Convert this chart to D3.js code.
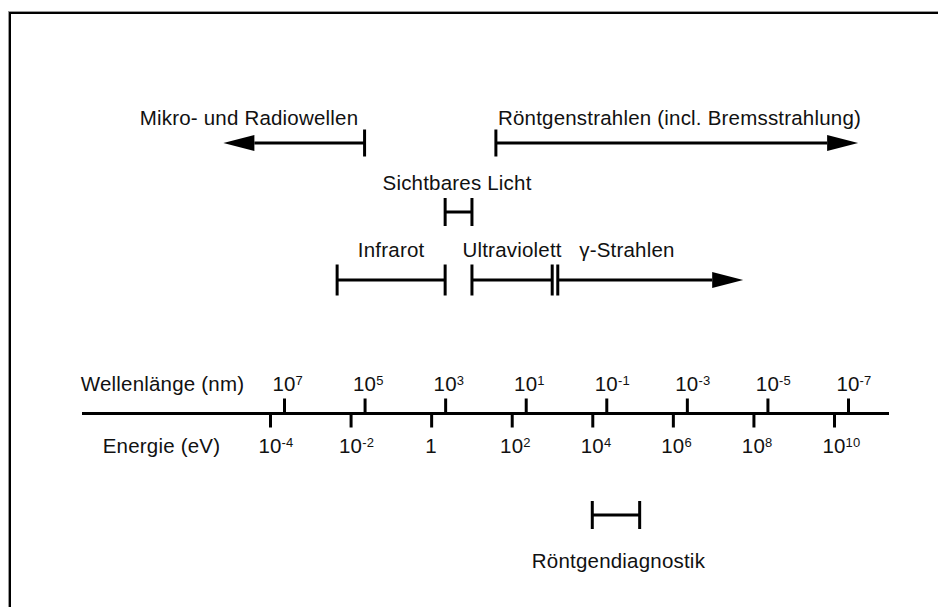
<!DOCTYPE html>
<html>
<head>
<meta charset="utf-8">
<script src="https://cdn.jsdelivr.net/npm/d3@7"></script>
<style>
  html, body { margin: 0; padding: 0; background: #fff; }
  svg { display: block; }
  text { font-family: "Liberation Sans", Arial, sans-serif; fill: #111; letter-spacing: 0.2px; }
</style>
</head>
<body>
<svg id="chart" width="938" height="607"></svg>
<script>
// ---------------- DATA ----------------
// Wavelength ticks (nm), shown as exponents of 10
const wavelengthExponents = [7, 5, 3, 1, -1, -3, -5, -7];
// Energy ticks (eV), shown as exponents of 10 (0 -> "1")
const energyExponents = [-4, -2, 0, 2, 4, 6, 8, 10];

// Spectral ranges, in wavelength (nm). arrow: which end carries an arrowhead
const rangeNames  = ["Mikro- und Radiowellen", "Röntgenstrahlen (incl. Bremsstrahlung)", "Sichtbares Licht", "Infrarot", "Ultraviolett", "γ-Strahlen"];
const rangeFromNm = [1e5,      55,    1000,  4.8e5, 216,  1.6];
const rangeToNm   = [3.2e8,    5.6e-8, 216,  1000,  2.2,  4e-5];
const rangeArrow  = ["to",     "to",   "none","none","none","to"];
const rangeRow    = [0, 0, 1, 2, 2, 2];

// Diagnostic range, in energy (eV)
const diagName = "Röntgendiagnostik";
const diagFromEv = 1e4;
const diagToEv = 1.5e5;

const axisTitleWave = "Wellenlänge (nm)";
const axisTitleEnergy = "Energie (eV)";

// ---------------- LAYOUT ----------------
const W = 938, H = 607;
const axisY = 413.5;
const rowY = [143, 212, 280];
const rowLabelY = [125, 190, 257];
const barHalf = [13.5, 14, 15.5];
const labelDx = [-45, 2.5, -1.5, 0, 0, -23.5];
const diagY = 515, diagHalf = 14, diagLabelY = 568, diagLabelDx = 2.5;
const fontSize = 20.5, supSize = 13;

const svg = d3.select("#chart");

// Frame
svg.append("rect").attr("x", 8.5).attr("y", 11.5).attr("width", 1000).attr("height", 1000)
  .attr("fill", "none").attr("stroke", "#999").attr("stroke-width", 1);
svg.append("rect").attr("x", 10).attr("y", 13).attr("width", 1000).attr("height", 1000)
  .attr("fill", "none").attr("stroke", "#000").attr("stroke-width", 2);

// Scales
const xWave = d3.scaleLog().domain([1e7, 1e-7]).range([284, 848]);
const xEnergy = d3.scaleLog().domain([1e-4, 1e10]).range([270, 834]);

// Axis baseline
svg.append("line").attr("x1", 82).attr("x2", 889).attr("y1", axisY).attr("y2", axisY)
  .attr("stroke", "#000").attr("stroke-width", 3);

// Wavelength ticks (up)
const gW = svg.append("g").attr("transform", `translate(0,${axisY})`)
  .call(d3.axisTop(xWave).tickValues(wavelengthExponents.map(e => Math.pow(10, e)))
        .tickSize(15).tickFormat(""));
gW.select(".domain").remove();
gW.selectAll(".tick line").attr("stroke", "#000").attr("stroke-width", 3);

// Energy ticks (down)
const gE = svg.append("g").attr("transform", `translate(0,${axisY})`)
  .call(d3.axisBottom(xEnergy).tickValues(energyExponents.map(e => Math.pow(10, e)))
        .tickSize(14).tickFormat(""));
gE.select(".domain").remove();
gE.selectAll(".tick line").attr("stroke", "#000").attr("stroke-width", 3);

// Power labels: "10" centered on the tick, exponent appended as superscript
function powerLabel(x, y, exp) {
  if (exp === 0) {
    svg.append("text").attr("x", x).attr("y", y).attr("text-anchor", "middle")
      .attr("font-size", fontSize).text("1");
    return;
  }
  const t = svg.append("text").attr("y", y).attr("font-size", fontSize);
  const base = t.append("tspan").text("10");
  const w = base.node().getComputedTextLength();
  t.attr("x", x - w / 2);
  t.append("tspan").attr("font-size", supSize).attr("dy", -6).text(exp < 0 ? "-" + (-exp) : String(exp));
}
wavelengthExponents.forEach(e => powerLabel(xWave(Math.pow(10, e)), 391, e));
energyExponents.forEach(e => powerLabel(xEnergy(Math.pow(10, e)), 453, e));

svg.append("text").attr("x", 162.5).attr("y", 391).attr("text-anchor", "middle")
  .attr("font-size", fontSize).text(axisTitleWave);
svg.append("text").attr("x", 161.5).attr("y", 453).attr("text-anchor", "middle")
  .attr("font-size", fontSize).text(axisTitleEnergy);

// Range bars
function rangeBar(x1, x2, y, half, arrow) {
  const g = svg.append("g");
  const dir = Math.sign(x2 - x1);
  const headLen = 31, headHalf = 8;
  const lineEnd = arrow === "to" ? x2 - dir * headLen : x2;
  g.append("line").attr("x1", x1).attr("x2", lineEnd).attr("y1", y).attr("y2", y)
    .attr("stroke", "#000").attr("stroke-width", 3);
  g.append("line").attr("x1", x1).attr("x2", x1).attr("y1", y - half).attr("y2", y + half)
    .attr("stroke", "#000").attr("stroke-width", 3);
  if (arrow === "to") {
    g.append("path")
      .attr("d", `M${x2},${y} L${x2 - dir * headLen},${y - headHalf} L${x2 - dir * headLen},${y + headHalf} Z`)
      .attr("fill", "#000");
  } else {
    g.append("line").attr("x1", x2).attr("x2", x2).attr("y1", y - half).attr("y2", y + half)
      .attr("stroke", "#000").attr("stroke-width", 3);
  }
}

rangeNames.forEach((name, i) => {
  const x1 = xWave(rangeFromNm[i]), x2 = xWave(rangeToNm[i]);
  rangeBar(x1, x2, rowY[rangeRow[i]], barHalf[rangeRow[i]], rangeArrow[i]);
  svg.append("text").attr("x", (x1 + x2) / 2 + labelDx[i]).attr("y", rowLabelY[rangeRow[i]])
    .attr("text-anchor", "middle").attr("font-size", fontSize).text(name);
});

// Röntgendiagnostik (energy range)
{
  const x1 = xEnergy(diagFromEv), x2 = xEnergy(diagToEv);
  rangeBar(x1, x2, diagY, diagHalf, "none");
  svg.append("text").attr("x", (x1 + x2) / 2 + diagLabelDx).attr("y", diagLabelY)
    .attr("text-anchor", "middle").attr("font-size", fontSize).text(diagName);
}
</script>
</body>
</html>
